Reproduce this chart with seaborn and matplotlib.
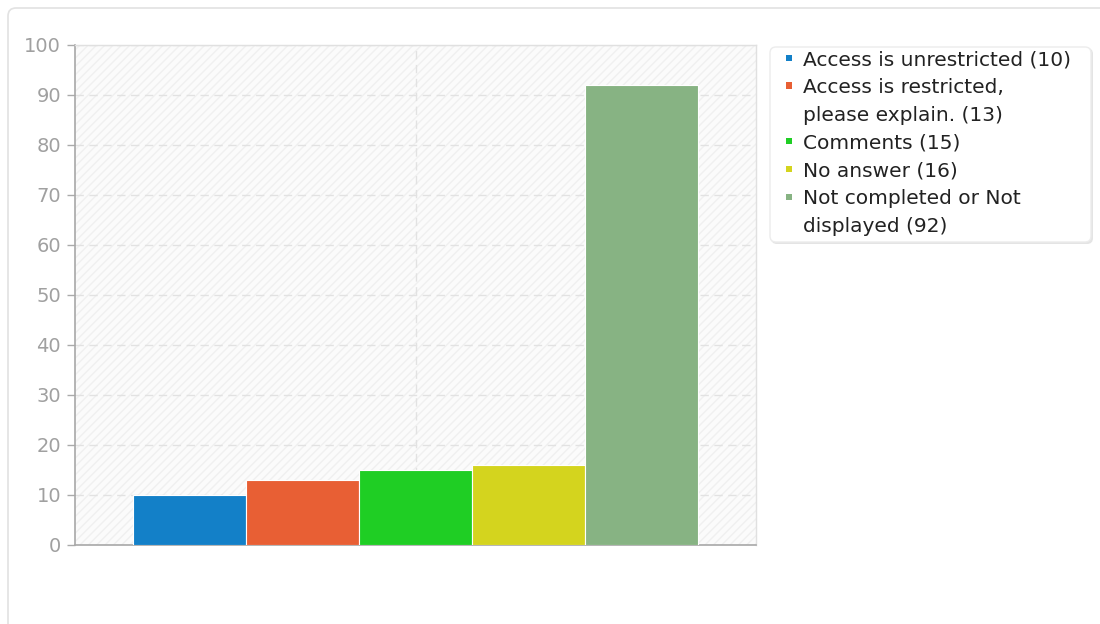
import matplotlib
matplotlib.use("Agg")
import matplotlib.pyplot as plt
import seaborn as sns
from matplotlib.patches import FancyBboxPatch, Patch

# data
categories = ["Access is unrestricted (10)",
              "Access is restricted,\nplease explain. (13)",
              "Comments (15)",
              "No answer (16)",
              "Not completed or Not\ndisplayed (92)"]
counts = [10, 13, 15, 16, 92]
colors = ["#1380c8", "#e85f34", "#1fce24", "#d4d41e", "#87b383"]
yticks = list(range(0, 101, 10))

sns.set_theme(style="white")
plt.rcParams['font.family'] = ['DejaVu Sans']

fig = plt.figure(figsize=(11, 6.24), dpi=100)

# outer card and legend box, drawn in a background axes (pixel coords)
bg = fig.add_axes([0, 0, 1, 1], zorder=-10)
bg.set_xlim(0, 1100)
bg.set_ylim(624, 0)
bg.axis("off")
bg.add_patch(FancyBboxPatch((8, 8), 1200, 1200,
                            boxstyle="round,pad=0,rounding_size=8",
                            facecolor="white", edgecolor="#e2e2e2",
                            linewidth=1.2))
# soft shadow then legend frame
bg.add_patch(FancyBboxPatch((771, 48), 322, 196,
                            boxstyle="round,pad=0,rounding_size=6",
                            facecolor="#e4e4e4", edgecolor="none"))
bg.add_patch(FancyBboxPatch((770, 47), 321, 195,
                            boxstyle="round,pad=0,rounding_size=6",
                            facecolor="white", edgecolor="#ececec",
                            linewidth=1))

ax = fig.add_axes([75 / 1100, 1 - 545 / 624, 681 / 1100, 500 / 624])
ax.set_facecolor("#fbfbfb")
ax.patch.set_hatch("////")
ax.patch.set_edgecolor("#f0f0f0")
ax.patch.set_linewidth(0)

sns.barplot(x=categories, y=counts, hue=categories, palette=colors,
            saturation=1, width=1.0, dodge=False, legend=False, ax=ax,
            edgecolor="white", linewidth=0.8, zorder=3)

ax.set_xlim(-1.01, 5.01)
ax.set_ylim(0, 100)
ax.set_yticks(yticks)
ax.set_xticks([2])
ax.set_xticklabels([""])
ax.tick_params(axis="x", length=0)
ax.tick_params(axis="y", length=6, width=1, color="#aaaaaa",
               labelcolor="#a0a0a0", labelsize=14, pad=4, left=True)
ax.grid(True, color="#e2e2e2", linestyle=(0, (6, 4)), linewidth=1, zorder=1)
ax.set_axisbelow(True)
ax.set_xlabel("")
ax.set_ylabel("")

for side in ["left", "bottom"]:
    ax.spines[side].set_color("#a8a8a8")
    ax.spines[side].set_linewidth(1.2)
for side in ["top", "right"]:
    ax.spines[side].set_color("#e0e0e0")
    ax.spines[side].set_linewidth(1)

# one legend row per text line, the swatch sits on the first line
handles, labels = [], []
for cat, col in zip(categories, colors):
    for i, line in enumerate(cat.split("\n")):
        if i == 0:
            handles.append(Patch(facecolor=col, edgecolor="none"))
        else:
            handles.append(Patch(facecolor="none", edgecolor="none"))
        labels.append(line)

leg = fig.legend(handles, labels, loc="upper left",
                 bbox_to_anchor=(786 / 1100, 1 - 50 / 624),
                 borderaxespad=0, borderpad=0,
                 frameon=False, fontsize=14.5, handlelength=0.3,
                 handleheight=0.09, handletextpad=0.55, labelspacing=0.44)
for t in leg.get_texts():
    t.set_color("#222222")

fig.savefig("out.png", dpi=100)
